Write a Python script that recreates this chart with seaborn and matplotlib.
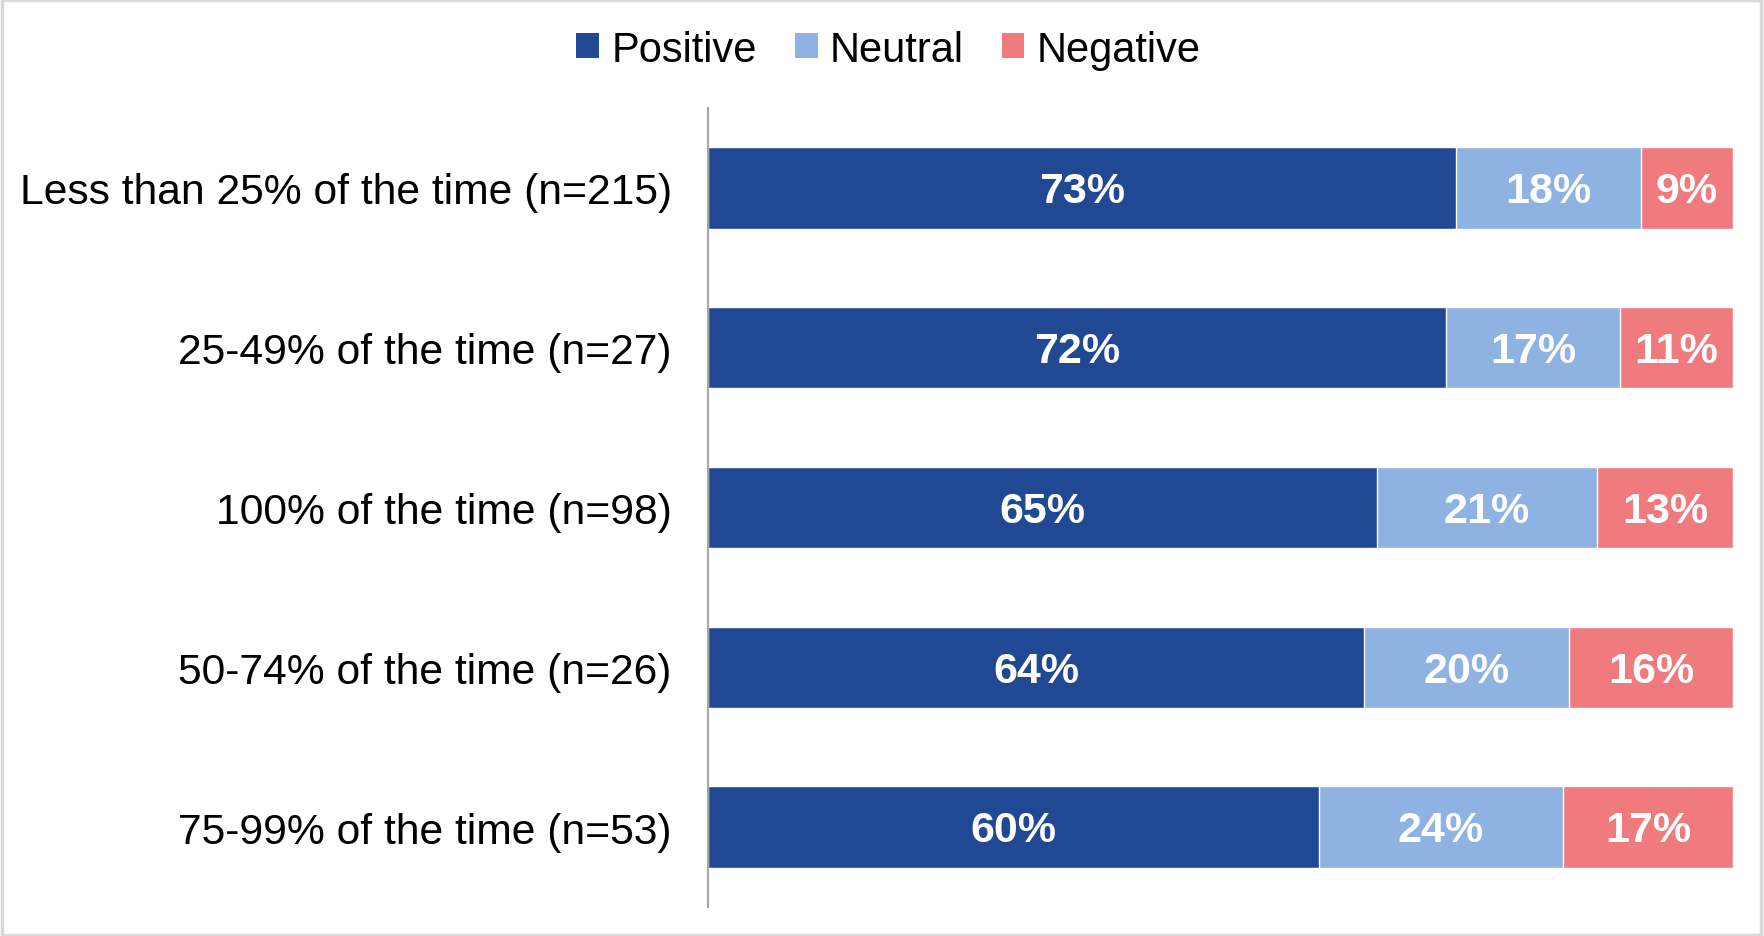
import matplotlib
matplotlib.use("Agg")
import matplotlib.pyplot as plt
from matplotlib.patches import Patch, Rectangle
import seaborn as sns
import pandas as pd
import numpy as np

# Response share by time category (percent)
categories = [
    "Less than 25% of the time (n=215)",
    "25-49% of the time (n=27)",
    "100% of the time (n=98)",
    "50-74% of the time (n=26)",
    "75-99% of the time (n=53)",
]
positive = [73.0, 72.0, 65.3, 64.0, 59.6]
neutral = [18.0, 17.0, 21.4, 20.0, 23.8]
negative = [9.0, 11.0, 13.3, 16.0, 16.6]

series_names = ["Positive", "Neutral", "Negative"]
colors = {"Positive": "#214892", "Neutral": "#8EB3E2", "Negative": "#EF7B7F"}

sns.set_theme(style="white")
plt.rcParams["font.family"] = ["Liberation Sans", "DejaVu Sans"]
plt.rcParams["text.color"] = "black"

df = pd.DataFrame({
    "category": categories,
    "Positive": positive,
    "Neutral": neutral,
    "Negative": negative,
})
df["cum_pos"] = df["Positive"]
df["cum_neu"] = df["Positive"] + df["Neutral"]
df["cum_neg"] = df["cum_neu"] + df["Negative"]

fig = plt.figure(figsize=(17.65, 9.37), dpi=100)
ax = fig.add_axes([0.4011, 0.0309, 0.9819 - 0.4011, 0.8837 - 0.0309])

# Stacked bars: draw cumulative totals back to front
for cum_col, name in [("cum_neg", "Negative"), ("cum_neu", "Neutral"), ("cum_pos", "Positive")]:
    sns.barplot(data=df, y="category", x=cum_col, orient="h", color=colors[name],
                width=0.51, saturation=1, ax=ax, order=categories)

# Segment value labels
ypos = np.arange(len(categories))
for i in range(len(categories)):
    starts = [0, df["cum_pos"][i], df["cum_neu"][i]]
    vals = [positive[i], neutral[i], negative[i]]
    for s, v in zip(starts, vals):
        ax.text(s + v / 2, ypos[i] + 0.02, f"{v:.0f}%", ha="center", va="center",
                color="white", fontsize=31, fontweight="bold")

ax.set_xlim(0, 100)
ax.set_ylim(len(categories) - 0.5, -0.5)
ax.set_xlabel("")
ax.set_ylabel("")
ax.set_xticks([])
ax.tick_params(axis="y", length=0, pad=26, labelsize=30.7, labelcolor="black")
for side in ["top", "right", "bottom"]:
    ax.spines[side].set_visible(False)
ax.spines["left"].set_color("#A6A6A6")
ax.spines["left"].set_linewidth(1.5)

handles = [Patch(facecolor=colors[n], edgecolor="none", label=n) for n in series_names]
fig.legend(handles=handles, loc="center", bbox_to_anchor=(0.5035, 0.946), ncol=3,
           frameon=False, fontsize=30, handlelength=0.55, handleheight=0.55,
           handletextpad=0.3, columnspacing=0.9, labelcolor="black")

# Light chart-area border
fig.patches.append(Rectangle((0.001, 0.001), 0.997, 0.998, transform=fig.transFigure,
                             fill=False, edgecolor="#D9D9D9", linewidth=2.5))

fig.savefig("out.png", dpi=100, facecolor="white")
